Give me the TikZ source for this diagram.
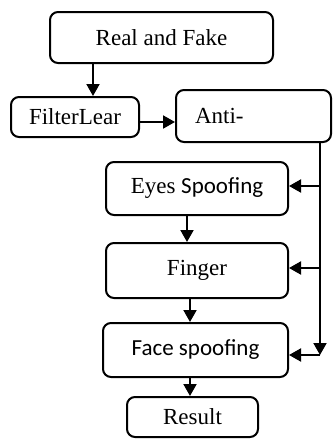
\documentclass[tikz,border=0pt]{standalone}
\usepackage{fontspec}
\setmainfont{Liberation Serif}
\newfontfamily\calib{Carlito}
\usetikzlibrary{arrows.meta}
\tikzset{
  box/.style={draw=black, line width=2pt, rounded corners=8pt, fill=white,
    inner sep=0pt, font=\fontsize{23}{27}\selectfont},
  arr/.style={line width=2pt, -{Triangle[length=12pt,width=13pt]}}
}
\begin{document}
\begin{tikzpicture}[x=1pt,y=-1pt]
\useasboundingbox[fill=white] (0,0) rectangle (333,439);
\node[box, minimum width=223pt, minimum height=51pt] (rf) at (161.5,37.5) {Real and Fake};
\node[box, minimum width=128pt, minimum height=40pt] (fl) at (75,117) {FilterLear};
\node[box, minimum width=155pt, minimum height=52pt, text width=117pt, inner xsep=19pt, align=left] (anti) at (253.5,116) {Anti-};
\node[box, minimum width=182pt, minimum height=53pt] (eyes) at (197,188.5) {Eyes {\calib Spoofing}};
\node[box, minimum width=182pt, minimum height=55pt] (finger) at (197,270.5) {Finger};
\node[box, minimum width=185pt, minimum height=54pt] (face) at (195.5,350) {\calib Face spoofing};
\node[box, minimum width=131pt, minimum height=40pt] (result) at (192.5,417) {Result};
% helper coordinates
\coordinate (xa) at (93,0);
\coordinate (ya) at (0,122);
\coordinate (xb) at (187,0);
\coordinate (xc) at (190,0);
\coordinate (xr) at (320,0);
\coordinate (ye) at (0,186);
\coordinate (yf) at (0,268);
\coordinate (yg) at (0,355);
\coordinate (turn) at (320,355);
% connectors
\draw[arr] (rf.south -| xa) -- (fl.north -| xa);
\draw[arr] (fl.east |- ya) -- (anti.west |- ya);
\draw[arr] (anti.south -| xr) -- (turn);
\draw[arr] (turn) -- (face.east |- yg);
\draw[arr] (xr |- ye) -- (eyes.east |- ye);
\draw[arr] (xr |- yf) -- (finger.east |- yf);
\draw[arr] (eyes.south -| xb) -- (finger.north -| xb);
\draw[arr] (finger.south -| xc) -- (face.north -| xc);
\draw[arr] (face.south -| xc) -- (result.north -| xc);
\end{tikzpicture}
\end{document}
